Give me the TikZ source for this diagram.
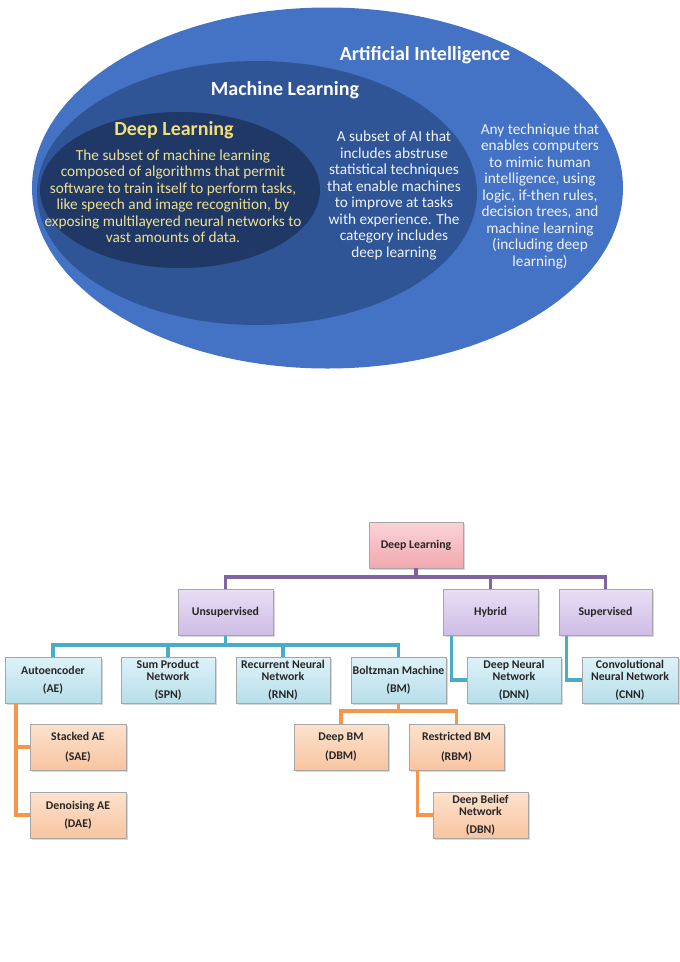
\documentclass[tikz,border=0pt]{standalone}
\usepackage{fontspec}
\setmainfont{Carlito}
\usetikzlibrary{shadows}
\definecolor{aiblue}{RGB}{68,114,196}
\definecolor{mlblue}{RGB}{47,85,151}
\definecolor{dlblue}{RGB}{31,56,102}
\definecolor{dlyellow}{RGB}{238,224,145}
\definecolor{dltitle}{RGB}{240,222,120}
\definecolor{whitetext}{RGB}{238,242,250}
\definecolor{purpleline}{RGB}{128,100,162}
\definecolor{tealline}{RGB}{75,172,198}
\definecolor{orangeline}{RGB}{245,150,75}
\definecolor{pinktop}{RGB}{250,212,216}
\definecolor{pinkbot}{RGB}{242,168,176}
\definecolor{lavtop}{RGB}{232,222,245}
\definecolor{lavbot}{RGB}{206,188,230}
\definecolor{cyantop}{RGB}{222,242,248}
\definecolor{cyanbot}{RGB}{183,222,234}
\definecolor{peachtop}{RGB}{253,226,205}
\definecolor{peachbot}{RGB}{248,196,160}
\begin{document}
\begin{tikzpicture}[x=1pt,y=-1pt,
  box/.style={draw=black!35, line width=0.6pt, minimum height=46pt, inner sep=1pt,
    align=center, font=\bfseries\fontsize{11.8}{12.5}\selectfont, text=black!85,
    drop shadow={opacity=0.3,shadow xshift=1.5pt,shadow yshift=-1.5pt}},
  pinkbox/.style={box, top color=pinktop, bottom color=pinkbot},
  lavbox/.style={box, top color=lavtop, bottom color=lavbot},
  cyanbox/.style={box, top color=cyantop, bottom color=cyanbot},
  peachbox/.style={box, top color=peachtop, bottom color=peachbot},
  conn/.style={line width=3.5pt},
  bigtitle/.style={font=\bfseries\fontsize{20}{24}\selectfont, inner sep=0pt},
  body/.style={font=\fontsize{15.3}{16.5}\selectfont, align=center, inner sep=0pt}
]
\useasboundingbox (0,0) rectangle (680,962);
\fill[white] (0,0) rectangle (680,962);

% ---- nested ellipses ----
\fill[aiblue] (327.5,188) ellipse [x radius=295.5pt, y radius=180.5pt];
\fill[mlblue] (257,193) ellipse [x radius=220pt, y radius=132pt];
\fill[dlblue] (180,190) ellipse [x radius=140pt, y radius=78pt];

\node[bigtitle, text=white] (aititle) at (425,55) {Artificial Intelligence};
\node[bigtitle, text=white] (mltitle) at (285,90) {Machine Learning};
\node[bigtitle, text=dltitle] (dltitle) at (174,130) {Deep Learning};

\node[body, text=dlyellow] (dltext) at (173,196) {The subset of machine learning\\composed of algorithms that permit\\software to train itself to perform tasks,\\like speech and image recognition, by\\exposing multilayered neural networks to\\vast amounts of data.};
\node[body, text=whitetext] (mltext) at (394,195.5) {A subset of AI that\\includes abstruse\\statistical techniques\\that enable machines\\to improve at tasks\\with experience. The\\category includes\\deep learning};
\node[body, text=whitetext] (aitext) at (540,196) {Any technique that\\enables computers\\to mimic human\\intelligence, using\\logic, if-then rules,\\decision trees, and\\machine learning\\(including deep\\learning)};

% ---- tree ----
\node[pinkbox, minimum width=94pt] (dl) at (416,545) {Deep Learning};
\node[lavbox, minimum width=95pt] (uns) at (225.5,612.5) {Unsupervised};
\node[lavbox, minimum width=95pt] (hyb) at (490.5,612.5) {Hybrid};
\node[lavbox, minimum width=93pt] (sup) at (605.5,612.5) {Supervised};

\node[cyanbox, minimum width=96pt] (ae) at (53,680) {Autoencoder\\[5pt](AE)};
\node[cyanbox, minimum width=94pt] (spn) at (168,680) {Sum Product\\Network\\[5pt](SPN)};
\node[cyanbox, minimum width=94pt] (rnn) at (283,680) {Recurrent Neural\\Network\\[5pt](RNN)};
\node[cyanbox, minimum width=95pt] (bm) at (398.5,680) {Boltzman Machine\\[5pt](BM)};
\node[cyanbox, minimum width=94pt] (dnn) at (514,680) {Deep Neural\\Network\\[5pt](DNN)};
\node[cyanbox, minimum width=96pt] (cnn) at (630,680) {Convolutional\\Neural Network\\[5pt](CNN)};

\node[peachbox, minimum width=96pt] (sae) at (78,747) {Stacked AE\\[7pt](SAE)};
\node[peachbox, minimum width=96pt] (dae) at (78,815) {Denoising AE\\[5pt](DAE)};
\node[peachbox, minimum width=94pt] (dbm) at (341,747) {Deep BM\\[7pt](DBM)};
\node[peachbox, minimum width=95pt] (rbm) at (456.5,747) {Restricted BM\\[7pt](RBM)};
\node[peachbox, minimum width=95pt] (dbn) at (480.5,815) {Deep Belief\\Network\\[5pt](DBN)};

% purple connectors
\coordinate (pbus) at (416,577);
\draw[conn, purpleline] (dl.south) -- (dl.south |- pbus);
\draw[conn, purpleline] (uns.north) |- (pbus) -| (sup.north);
\draw[conn, purpleline] (hyb.north) -- (hyb.north |- pbus);

% teal connectors
\coordinate (tbus) at (225.5,645);
\draw[conn, tealline] (uns.south) -- (uns.south |- tbus);
\draw[conn, tealline] (ae.north) |- (tbus) -| (bm.north);
\draw[conn, tealline] (spn.north) -- (spn.north |- tbus);
\draw[conn, tealline] (rnn.north) -- (rnn.north |- tbus);
\draw[conn, tealline] ([xshift=9pt]hyb.south west) |- (dnn.west);
\draw[conn, tealline] ([xshift=8pt]sup.south west) |- (cnn.west);

% orange connectors
\draw[conn, orangeline] ([xshift=11.5pt]ae.south west) |- (dae.west);
\draw[conn, orangeline] ([xshift=11.5pt]ae.south west) |- (sae.west);
\coordinate (obus) at (398.5,711);
\draw[conn, orangeline] (bm.south) -- (bm.south |- obus);
\draw[conn, orangeline] (dbm.north) |- (obus) -| (rbm.north);
\draw[conn, orangeline] ([xshift=9pt]rbm.south west) |- (dbn.west);
\end{tikzpicture}
\end{document}
